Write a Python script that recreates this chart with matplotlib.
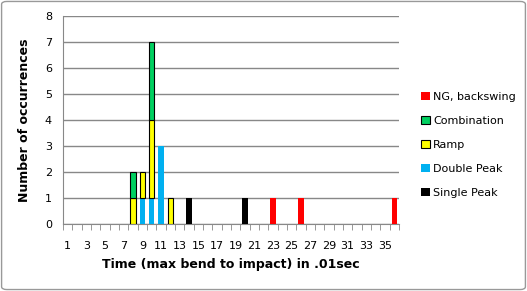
import matplotlib
matplotlib.use("Agg")
import matplotlib.pyplot as plt
import numpy as np
from matplotlib.patches import FancyBboxPatch

categories = list(range(1, 37))
single_peak = {14: 1, 20: 1}
double_peak = {9: 1, 10: 1, 11: 3}
ramp = {8: 1, 9: 1, 10: 3, 12: 1}
combination = {8: 1, 10: 3}
ng_backswing = {23: 1, 26: 1, 36: 1}

series = [
    ("Single Peak", single_peak, "#000000", None),
    ("Double Peak", double_peak, "#00B0F0", None),
    ("Ramp", ramp, "#FFFF00", "#000000"),
    ("Combination", combination, "#00D060", "#000000"),
    ("NG, backswing", ng_backswing, "#FF0000", None),
]

plt.rcParams['font.family'] = ['DejaVu Sans']
fig = plt.figure(figsize=(5.27, 2.91), dpi=100)
ax = fig.add_axes([63/527, (291-224)/291, (399-63)/527, (224-16)/291])

x = np.arange(len(categories))
bottom = np.zeros(len(categories))
handles = []
for name, d, color, ec in series:
    vals = np.array([d.get(c, 0) for c in categories], dtype=float)
    mask = vals > 0
    h = ax.bar(x[mask], vals[mask], width=0.55, bottom=bottom[mask], color=color,
               edgecolor=ec if ec else color, linewidth=0.8 if ec else 0,
               label=name, zorder=3)
    bottom += vals
    handles.append(h)

ax.set_xlim(-0.5, len(categories) - 0.5)
ax.set_ylim(0, 8)
ax.set_yticks(range(0, 9))
ax.yaxis.grid(True, color="#888888", linewidth=1, zorder=0)
ax.tick_params(axis='y', length=0, labelsize=8, pad=8)
ax.set_xticks(x[::2])
ax.set_xticklabels([str(c) for c in categories[::2]], fontsize=8)
ax.set_xticks(np.arange(-0.5, len(categories)), minor=True)
ax.tick_params(axis='x', which='major', length=0, pad=12)
ax.tick_params(axis='x', which='minor', length=4, color="#888888")
for s in ['top', 'right']:
    ax.spines[s].set_visible(False)
ax.spines['left'].set_color("#888888")
ax.spines['bottom'].set_color("#888888")
ax.set_xlabel("Time (max bend to impact) in .01sec", fontsize=9, fontweight='bold', labelpad=5)
ax.set_ylabel("Number of occurrences", fontsize=9, fontweight='bold', labelpad=10)

leg = fig.legend(handles[::-1], [s[0] for s in series][::-1], loc='center left',
                 bbox_to_anchor=(411/527, (291-145)/291), frameon=False, fontsize=8,
                 handlelength=0.8, handleheight=0.8, handletextpad=0.3,
                 labelspacing=1.25)

border = FancyBboxPatch((0.003, 0.005), 0.994, 0.99, boxstyle="round,pad=0,rounding_size=0.01",
                        transform=fig.transFigure, fill=False, edgecolor="#999999", linewidth=1)
fig.patches.append(border)

fig.savefig("out.png", dpi=100)
